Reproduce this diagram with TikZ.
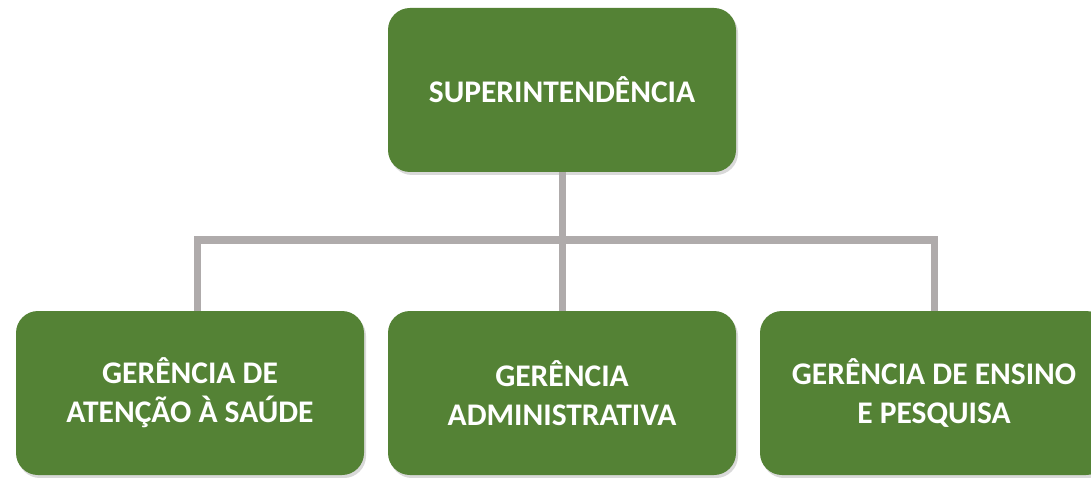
\documentclass[tikz,border=0pt]{standalone}
\usepackage{fontspec}
\setmainfont{Carlito}
\usepackage{xcolor}
\usetikzlibrary{positioning, shadows}
\definecolor{boxgreen}{HTML}{548235}
\definecolor{linkgray}{HTML}{AFABAB}

\begin{document}
\begin{tikzpicture}[x=1pt, y=-1pt,
    unit/.style={rounded corners=22pt, fill=boxgreen, text=white,
      minimum width=348pt, minimum height=164pt, align=center,
      font=\fontsize{31.5}{39}\selectfont\bfseries,
      drop shadow={shadow xshift=2pt, shadow yshift=-3pt, opacity=0.3}},
    link/.style={draw=linkgray, line width=7pt, line join=miter}]
  \useasboundingbox (0,0) rectangle (1091,478);
  % top of the chart
  \node[unit] (sup) at (562,90) {SUPERINTENDÊNCIA};
  % the three departments
  \node[unit] (gas) at (190,393) {GERÊNCIA DE\\ATENÇÃO À SAÚDE};
  \node[unit] (gad) at (562,393) {GERÊNCIA\\ADMINISTRATIVA};
  \node[unit] (gep) at (934,393) {GERÊNCIA DE ENSINO\\E PESQUISA};
  % connectors
  \coordinate (bus) at (562,240);
  \draw[link] (sup.south) -- (gad.north);
  \draw[link] (gas.north -| 197,0) -- (197,0 |- bus) -- (gep.north |- bus) -- (gep.north);
\end{tikzpicture}
\end{document}
